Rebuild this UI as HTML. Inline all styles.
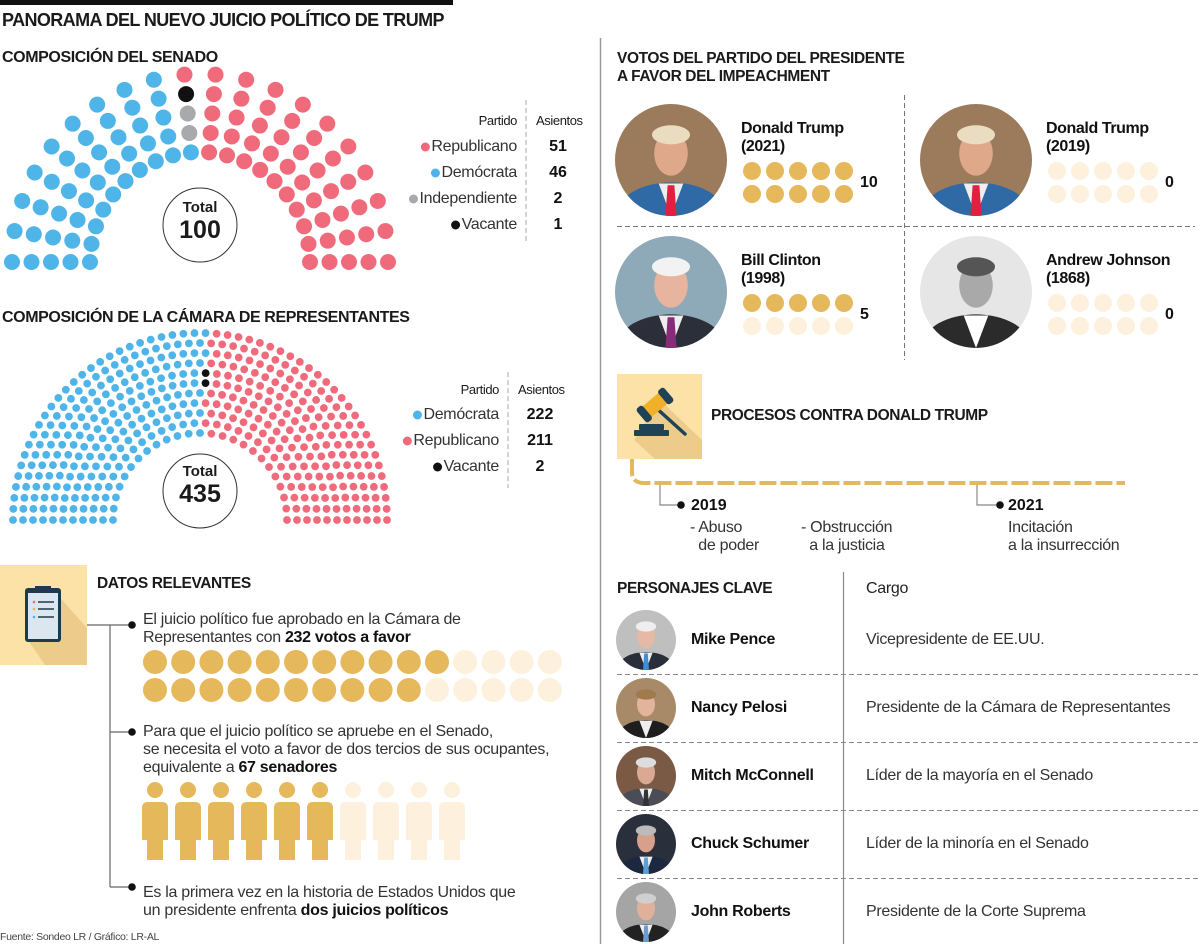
<!DOCTYPE html>
<html><head><meta charset="utf-8">
<style>
*{margin:0;padding:0;box-sizing:border-box}
body{width:1200px;height:944px;background:#fff;position:relative;overflow:hidden;font-family:"Liberation Sans",sans-serif;color:#1a1a1a}
.t{position:absolute;white-space:nowrap;line-height:1}
.h{font-weight:bold;font-size:15.5px;letter-spacing:-0.4px}
.b{font-size:16px;color:#333;letter-spacing:-0.3px}
.bold{font-weight:bold;color:#111}
svg{position:absolute;left:0;top:0}
</style></head>
<body>
<svg id="g" width="1200" height="944"></svg>

<div class="t" style="left:2px;top:11px;font-size:18px;font-weight:bold;letter-spacing:-0.6px">PANORAMA DEL NUEVO JUICIO POLÍTICO DE TRUMP</div>
<div class="t h" style="left:2px;top:50px;font-size:16px">COMPOSICIÓN DEL SENADO</div>
<div class="t h" style="left:2px;top:310px;font-size:16px">COMPOSICIÓN DE LA CÁMARA DE REPRESENTANTES</div>
<div class="t h" style="left:97px;top:576px">DATOS RELEVANTES</div>
<div class="t h" style="left:617px;top:50px;line-height:18px">VOTOS DEL PARTIDO DEL PRESIDENTE<br>A FAVOR DEL IMPEACHMENT</div>
<div class="t h" style="left:711px;top:408px">PROCESOS CONTRA DONALD TRUMP</div>
<div class="t h" style="left:617px;top:581px">PERSONAJES CLAVE</div>
<div class="t b" style="left:866px;top:581px;font-size:16px;color:#222">Cargo</div>

<div class="t" style="left:400px;top:114px;width:117px;text-align:right;font-size:13px;letter-spacing:-0.4px">Partido</div>
<div class="t" style="left:536px;top:114px;font-size:13px;letter-spacing:-0.4px">Asientos</div>
<div id="senLeg"></div>
<div id="houseLeg"></div>
<div class="t" style="left:380px;top:383px;width:119px;text-align:right;font-size:13px;letter-spacing:-0.4px">Partido</div>
<div class="t" style="left:518px;top:383px;font-size:13px;letter-spacing:-0.4px">Asientos</div>

<div class="t" style="left:163px;top:200px;width:74px;text-align:center;font-weight:bold;font-size:15px">Total</div>
<div class="t" style="left:163px;top:218px;width:74px;text-align:center;font-weight:bold;font-size:25px">100</div>
<div class="t" style="left:163px;top:464px;width:74px;text-align:center;font-weight:bold;font-size:15px">Total</div>
<div class="t" style="left:163px;top:482px;width:74px;text-align:center;font-weight:bold;font-size:25px">435</div>

<div class="t b" style="left:143px;top:611px;line-height:18px">El juicio político fue aprobado en la Cámara de<br>Representantes con <span class="bold">232 votos a favor</span></div>
<div class="t b" style="left:143px;top:723px;line-height:18px">Para que el juicio político se apruebe en el Senado,<br>se necesita el voto a favor de dos tercios de sus ocupantes,<br>equivalente a <span class="bold">67 senadores</span></div>
<div class="t b" style="left:143px;top:884px;line-height:18px">Es la primera vez en la historia de Estados Unidos que<br>un presidente enfrenta <span class="bold">dos juicios políticos</span></div>
<div class="t" style="left:0px;top:932px;font-size:10.5px;color:#444;letter-spacing:-0.3px">Fuente: Sondeo LR / Gráfico: LR-AL</div>

<div class="t bold" style="left:741px;top:120px;font-size:16px;line-height:18px;letter-spacing:-0.4px">Donald Trump<br>(2021)</div>
<div class="t bold" style="left:1046px;top:120px;font-size:16px;line-height:18px;letter-spacing:-0.4px">Donald Trump<br>(2019)</div>
<div class="t bold" style="left:741px;top:252px;font-size:16px;line-height:18px;letter-spacing:-0.4px">Bill Clinton<br>(1998)</div>
<div class="t bold" style="left:1046px;top:252px;font-size:16px;line-height:18px;letter-spacing:-0.4px">Andrew Johnson<br>(1868)</div>
<div id="voteCounts"></div>

<div class="t bold" style="left:691px;top:498px;font-size:16px">2019</div>
<div class="t bold" style="left:1008px;top:498px;font-size:16px">2021</div>
<div class="t b" style="left:690px;top:519px;line-height:18px">- Abuso<br>&nbsp;&nbsp;de poder</div>
<div class="t b" style="left:801px;top:519px;line-height:18px">- Obstrucción<br>&nbsp;&nbsp;a la justicia</div>
<div class="t b" style="left:1008px;top:519px;line-height:18px">Incitación<br>a la insurrección</div>

<div id="people"></div>

<script>
const NS='http://www.w3.org/2000/svg';
const g=document.getElementById('g');
function el(tag,attrs,parent){const e=document.createElementNS(NS,tag);for(const k in attrs)e.setAttribute(k,attrs[k]);(parent||g).appendChild(e);return e;}

const senateParties=['Demócrata','Independiente','Vacante','Republicano'];
const senateSeats=[46,2,1,51];
const senateColors=['#4fb4e8','#a7a9ac','#111111','#ef6b7b'];
const houseParties=['Demócrata','Vacante','Republicano'];
const houseSeats=[222,2,211];
const houseColors=['#4fb4e8','#111111','#ef6b7b'];
const senateLegendOrder=['Republicano','Demócrata','Independiente','Vacante'];
const houseLegendOrder=['Demócrata','Republicano','Vacante'];
const presNames=['Trump 2021','Trump 2019','Clinton 1998','Johnson 1868'];
const presVotes=[10,0,5,0];
const houseFavorDots=21, houseFavorTotal=30;
const senatorsNeededIcons=6, senatorsTotalIcons=10;
const people=['Mike Pence','Nancy Pelosi','Mitch McConnell','Chuck Schumer','John Roberts'];
const roles=['Vicepresidente de EE.UU.','Presidente de la Cámara de Representantes','Líder de la mayoría en el Senado','Líder de la minoría en el Senado','Presidente de la Corte Suprema'];

const GOLD='#e6b85c', FADE='#fdf1dd', BOX='#fde2a8';

const bar=el('rect',{x:0,y:0,width:453,height:5,fill:'#111'});


const div=el('line',{x1:600.5,y1:38,x2:600.5,y2:944,stroke:'#999','stroke-width':1.5});



function colorFor(idx,counts,colors){let c=0;for(let i=0;i<counts.length;i++){c+=counts[i];if(idx<c)return colors[i];}return colors[colors.length-1];}
function measure(txt,size){const c=document.createElement('canvas').getContext('2d');c.font=size+'px "Liberation Sans"';return c.measureText(txt).width-txt.length*0.3;}

(function(){
  const cx=200,cy=262,rays=20,rings=5,r0=110,r1=188;
  let k=0;
  for(let ray=0;ray<rays;ray++){
    const a=Math.PI-ray*Math.PI/(rays-1);
    for(let ri=0;ri<rings;ri++){
      const r=r0+(r1-r0)*ri/(rings-1);
      const c=el('circle',{cx:cx+r*Math.cos(a),cy:cy-r*Math.sin(a),r:8,fill:colorFor(k,senateSeats,senateColors)});
      
      
      k++;
    }
  }
  const tc=el('circle',{cx:200,cy:225,r:37,fill:'#fff',stroke:'#333','stroke-width':1});
  
  
  const dl=el('line',{x1:526,y1:100,x2:526,y2:243,stroke:'#aaa','stroke-dasharray':'5 3'});
  
  
  const leg=document.getElementById('senLeg');
  senateLegendOrder.forEach((p,i)=>{
    const j=senateParties.indexOf(p), y=147+i*26;
    const w=measure(p,16);
    const d=el('circle',{cx:517-w-6,cy:y,r:4.5,fill:senateColors[j]});
    
    
    const t=document.createElement('div');t.className='t';
    t.style.cssText='left:300px;top:'+(y-8)+'px;width:217px;text-align:right;font-size:16px;color:#333;letter-spacing:-0.3px';
    t.textContent=p;
    
    
    leg.appendChild(t);
    const n=document.createElement('div');n.className='t bold';
    n.style.cssText='left:538px;top:'+(y-8)+'px;width:40px;text-align:center;font-size:16px';
    n.textContent=senateSeats[j];
    
    
    leg.appendChild(n);
  });
})();

(function(){
  const cx=200,cy=520,rings=11,r0=87,dr=10;
  const total=houseSeats.reduce((a,b)=>a+b,0);
  let sumR=0;for(let i=0;i<rings;i++)sumR+=r0+dr*i;
  const counts=[];let acc=0;
  for(let i=0;i<rings;i++){const n=Math.round(total*(r0+dr*i)/sumR);counts.push(n);acc+=n;}
  counts[rings-1]+=total-acc;
  const seats=[];
  counts.forEach((n,i)=>{const r=r0+dr*i;for(let s=0;s<n;s++){const a=Math.PI-s*Math.PI/(n-1);seats.push({a,r});}});
  seats.sort((p,q)=>q.a-p.a||p.r-q.r);
  seats.forEach((s,k)=>{
    const c=el('circle',{cx:cx+s.r*Math.cos(s.a),cy:cy-s.r*Math.sin(s.a),r:3.9,fill:colorFor(k,houseSeats,houseColors)});
    
    
  });
  const tc=el('circle',{cx:200,cy:491,r:37,fill:'#fff',stroke:'#333','stroke-width':1});
  
  
  const dl=el('line',{x1:508,y1:372,x2:508,y2:488,stroke:'#aaa','stroke-dasharray':'5 3'});
  
  
  const leg=document.getElementById('houseLeg');
  houseLegendOrder.forEach((p,i)=>{
    const j=houseParties.indexOf(p), y=415+i*26;
    const w=measure(p,16);
    const d=el('circle',{cx:499-w-6,cy:y,r:4.5,fill:houseColors[j]});
    
    
    const t=document.createElement('div');t.className='t';
    t.style.cssText='left:280px;top:'+(y-8)+'px;width:219px;text-align:right;font-size:16px;color:#333;letter-spacing:-0.3px';
    t.textContent=p;
    
    
    leg.appendChild(t);
    const n=document.createElement('div');n.className='t bold';
    n.style.cssText='left:520px;top:'+(y-8)+'px;width:40px;text-align:center;font-size:16px';
    n.textContent=houseSeats[j];
    
    
    leg.appendChild(n);
  });
})();

(function(){
  const box=el('rect',{x:0,y:565,width:87,height:100,fill:BOX});
  
  
  el('polygon',{points:'55,592 87,628 87,665 45,665 28,640',fill:'#edcb8b'});
  const cb=el('rect',{x:25,y:588,width:36,height:54,rx:3,fill:'#1f3a4d'});
  
  
  el('rect',{x:28,y:593,width:30,height:46,fill:'#dbe6ee'});
  el('rect',{x:35,y:586,width:16,height:6,fill:'#1f3a4d'});
  [602,609,617].forEach((y,i)=>{el('line',{x1:38,y1:y,x2:54,y2:y,stroke:'#1f3a4d','stroke-width':1.5});el('circle',{cx:34,cy:y,r:1.3,fill:['#ef6b7b','#e6b85c','#4fb4e8'][i]});});
  const ln=el('path',{d:'M87,625 H110 V887 M110,625 H132 M110,732 H132 M110,887 H132',stroke:'#666','stroke-width':1.2,fill:'none'});
  
  
  [625,732,887].forEach(y=>{const d=el('circle',{cx:132,cy:y,r:3.8,fill:'#111'});
    
    });
  const perRow=houseFavorTotal/2;
  const filledRow0=Math.ceil(houseFavorDots/2), filledRow1=houseFavorDots-filledRow0;
  for(let i=0;i<houseFavorTotal;i++){
    const row=Math.floor(i/perRow), col=i%perRow;
    const filled=row===0?col<filledRow0:col<filledRow1;
    const c=el('circle',{cx:155+col*28.2,cy:662+row*28,r:12,fill:filled?GOLD:FADE});
    
    
  }
  for(let i=0;i<senatorsTotalIcons;i++){
    const x=155+i*33, col=i<senatorsNeededIcons?GOLD:FADE;
    const gp=el('g',{fill:col});
    
    
    el('circle',{cx:x,cy:790,r:8},gp);
    el('path',{d:`M${x-13},${808} q0,-6 6,-6 h14 q6,0 6,6 v32 h-26 z`},gp);
    el('rect',{x:x-8,y:838,width:16,height:22},gp);
  }
})();

let pid=0;
function portrait(cx,cy,r,o){
  const id='cp'+(pid++);
  const cp=el('clipPath',{id});el('circle',{cx,cy,r},cp);
  const gp=el('g',{'clip-path':`url(#${id})`});
  
  
  el('rect',{x:cx-r,y:cy-r,width:2*r,height:2*r,fill:o.bg},gp);
  el('ellipse',{cx:cx,cy:cy+r*0.95,rx:r*0.95,ry:r*0.55,fill:o.suit},gp);
  el('polygon',{points:`${cx-r*0.22},${cy+r*0.42} ${cx+r*0.22},${cy+r*0.42} ${cx},${cy+r}`,fill:o.shirt||'#eee'},gp);
  if(o.tie)el('polygon',{points:`${cx-r*0.06},${cy+r*0.45} ${cx+r*0.06},${cy+r*0.45} ${cx+r*0.1},${cy+r} ${cx-r*0.1},${cy+r}`,fill:o.tie},gp);
  el('ellipse',{cx:cx,cy:cy-r*0.12,rx:r*0.3,ry:r*0.4,fill:o.skin},gp);
  el('ellipse',{cx:cx,cy:cy-r*0.45,rx:r*0.34,ry:r*0.17,fill:o.hair},gp);
}
const presPos=[[671,160],[976,160],[671,292],[976,292]];
const presLook=[
 {bg:'#9b7b5c',suit:'#2f6aa6',skin:'#e0a88a',hair:'#e9dcc0',tie:'#e0203e'},
 {bg:'#9b7b5c',suit:'#2f6aa6',skin:'#e0a88a',hair:'#e9dcc0',tie:'#e0203e'},
 {bg:'#8ea9b8',suit:'#2c2f3a',skin:'#e7b4a0',hair:'#f2f2f2',tie:'#8a2a7a'},
 {bg:'#e6e6e6',suit:'#2b2b2b',skin:'#a9a9a9',hair:'#555',shirt:'#fff'}];
presPos.forEach((p,i)=>portrait(p[0],p[1],56,presLook[i]));

(function(){
  const vc=document.getElementById('voteCounts');
  const dotX=[752,1057], dotY=[171,303];
  presVotes.forEach((v,i)=>{
    const x0=dotX[i%2], y0=dotY[Math.floor(i/2)];
    for(let k=0;k<10;k++){
      const c=el('circle',{cx:x0+(k%5)*23,cy:y0+Math.floor(k/5)*23,r:9,fill:k<v?GOLD:FADE});
      
      
    }
    const t=document.createElement('div');t.className='t bold';
    t.style.cssText=`left:${x0+108}px;top:${y0+4}px;font-size:16px`;
    t.textContent=v;
    
    
    vc.appendChild(t);
  });
  const a=el('line',{x1:904.5,y1:95,x2:904.5,y2:360,stroke:'#777','stroke-dasharray':'5 3'});
  
  
  const b=el('line',{x1:617,y1:226.5,x2:1195,y2:226.5,stroke:'#777','stroke-dasharray':'5 3'});
  
  
})();

(function(){
  const box=el('rect',{x:617,y:374,width:85,height:85,fill:BOX});
  
  
  el('polygon',{points:'660,400 702,440 702,459 655,459 634,440',fill:'#edcb8b'});
  const gv=el('g',{});
  
  
  el('rect',{x:634,y:430,width:35,height:6,rx:1,fill:'#1f4257'},gv);
  el('rect',{x:639,y:424,width:25,height:6,rx:1,fill:'#1f4257'},gv);
  el('line',{x1:654,y1:406,x2:685,y2:434,stroke:'#1f4257','stroke-width':3.5,'stroke-linecap':'round'},gv);
  const hd=el('g',{transform:'rotate(-40 655 405)'},gv);
  el('rect',{x:643,y:398,width:24,height:14,rx:2,fill:'#f0b02a'},hd);
  el('rect',{x:637,y:396,width:8,height:18,rx:3,fill:'#1f4257'},hd);
  el('rect',{x:665,y:396,width:8,height:18,rx:3,fill:'#1f4257'},hd);
  const tl=el('path',{d:'M632,459 V472 Q632,483 644,483 H1125',stroke:GOLD,'stroke-width':4,fill:'none','stroke-dasharray':'17 4'});
  
  
  [[660,681],[977,1000]].forEach(p=>{
    const b=el('path',{d:`M${p[0]},485 V505 H${p[1]}`,stroke:'#888','stroke-width':1.2,fill:'none'});
    
    
    const d=el('circle',{cx:p[1],cy:505,r:3.8,fill:'#111'});
    
    
  });
})();

(function(){
  const vl=el('line',{x1:843.5,y1:572,x2:843.5,y2:944,stroke:'#888','stroke-width':1.2});
  
  
  const looks=[
   {bg:'#bfbfbf',suit:'#2a2e3a',skin:'#e5b9a5',hair:'#eeeeee',tie:'#3b8fd6'},
   {bg:'#a88a68',suit:'#1e1e1e',skin:'#e3b49c',hair:'#a07a4c'},
   {bg:'#7a5a44',suit:'#4a4d55',skin:'#d9a994',hair:'#dddddd',tie:'#333'},
   {bg:'#2a2f3c',suit:'#1c2740',skin:'#d8a08a',hair:'#bbbbbb',tie:'#5aa0d8'},
   {bg:'#a5a5a5',suit:'#222',skin:'#e1b09a',hair:'#cfcfcf',tie:'#6b9cd0'}];
  const pc=document.getElementById('people');
  people.forEach((nm,i)=>{
    const y=640+i*68;
    portrait(646,y,30,looks[i]);
    const n=document.createElement('div');n.className='t bold';
    n.style.cssText=`left:691px;top:${y-8}px;font-size:16px;letter-spacing:-0.3px`;
    n.textContent=nm;
    
    
    pc.appendChild(n);
    const r=document.createElement('div');r.className='t b';
    r.style.cssText=`left:866px;top:${y-8}px;font-size:16px`;
    r.textContent=roles[i];
    
    
    pc.appendChild(r);
    if(i<people.length-1){
      const l=el('line',{x1:617,y1:y+34.5,x2:1200,y2:y+34.5,stroke:'#888','stroke-dasharray':'5 3'});
      
      
    }
  });
})();
</script>
</body></html>
